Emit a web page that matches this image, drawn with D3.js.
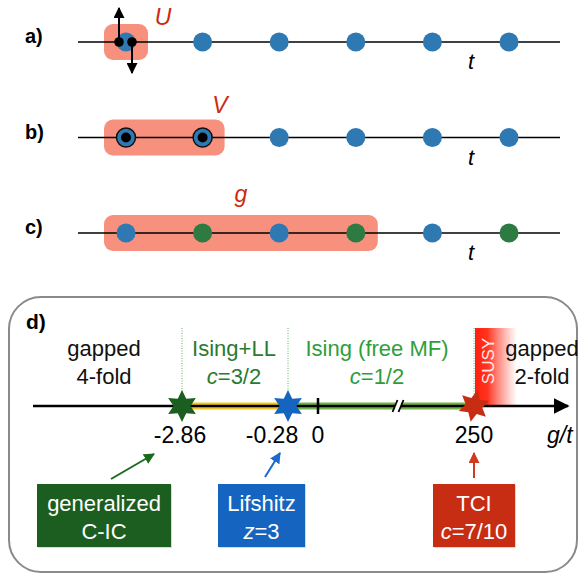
<!DOCTYPE html>
<html>
<head>
<meta charset="utf-8">
<script src="https://cdn.jsdelivr.net/npm/d3@7"></script>
<style>
  body { margin: 0; background: #fff; }
  text { font-family: "Liberation Sans", Arial, Helvetica, sans-serif; }
</style>
</head>
<body>
<div id="chart"></div>
<script>
// chain sites (panels a-c)
var sites = [0, 1, 2, 3, 4, 5];
var siteColorsA = ['blue', 'blue', 'blue', 'blue', 'blue', 'blue'];
var siteColorsB = ['blue', 'blue', 'blue', 'blue', 'blue', 'blue'];
var siteColorsC = ['blue', 'green', 'blue', 'green', 'blue', 'green'];
var panelLabels = ['a)', 'b)', 'c)'];
var couplingLabels = ['U', 'V', 'g'];
var couplingSpan = [1, 2, 4];

// phase diagram (panel d)
var tickValues = [-2.86, -0.28, 0, 250];
var tickLabels = ['-2.86', '-0.28', '0', '250'];
var criticalValues = [-2.86, -0.28, 250];
var criticalColors = ['#1b5e20', '#1565c0', '#c62d12'];
var criticalNames = [['generalized', 'C-IC'], ['Lifshitz', 'z=3'], ['TCI', 'c=7/10']];
var bandFrom = [-2.86, -0.28];
var bandTo = [-0.28, 250];
var bandColors = ['#f2c623', '#70b445'];

var W = 582, H = 577;
var colors = { blue: '#2f79b3', green: '#2d7a42' };
var salmon = '#f8907e';

var svg = d3.select('#chart').append('svg')
  .attr('width', W)
  .attr('height', H);

var defs = svg.append('defs');
var grad = defs.append('linearGradient')
  .attr('id', 'susy')
  .attr('x1', 0).attr('x2', 1).attr('y1', 0).attr('y2', 0);
grad.append('stop').attr('offset', 0).attr('stop-color', '#ff1f0c').attr('stop-opacity', 1);
grad.append('stop').attr('offset', 0.3).attr('stop-color', '#ff2a16').attr('stop-opacity', 0.95);
grad.append('stop').attr('offset', 1).attr('stop-color', '#ff5a4a').attr('stop-opacity', 0);

function arrowHead(id, color, size) {
  defs.append('marker')
    .attr('id', id)
    .attr('viewBox', '0 0 10 10')
    .attr('refX', 9).attr('refY', 5)
    .attr('markerWidth', size).attr('markerHeight', size)
    .attr('markerUnits', 'userSpaceOnUse')
    .attr('orient', 'auto')
    .append('path')
    .attr('d', 'M0,0 L10,5 L0,10 Z')
    .attr('fill', color);
}
arrowHead('ah-black', '#000', 11);
arrowHead('ah-axis', '#000', 16);
arrowHead('ah-green', '#1a6a1e', 11);
arrowHead('ah-blue', '#1a6ad0', 11);
arrowHead('ah-red', '#d03a20', 11);

// ---------- panels a, b, c ----------
var x = d3.scaleLinear().domain([0, 5]).range([126, 509]);
var rowY = d3.scalePoint().domain(panelLabels).range([42, 233]);
var siteColors = [siteColorsA, siteColorsB, siteColorsC];

panelLabels.forEach(function (lab, i) {
  var y = rowY(lab);
  var g = svg.append('g').attr('class', 'row');

  g.append('text')
    .attr('x', 25).attr('y', y + 1)
    .attr('font-size', 20).attr('font-weight', 'bold')
    .text(lab);

  var span = couplingSpan[i];
  g.append('rect')
    .attr('x', x(0) - 22)
    .attr('y', y - 18)
    .attr('width', x(span - 1) - x(0) + 44)
    .attr('height', 36)
    .attr('rx', 9)
    .attr('fill', salmon);

  g.append('line')
    .attr('x1', 78).attr('x2', 560)
    .attr('y1', y).attr('y2', y)
    .attr('stroke', '#000').attr('stroke-width', 1.6);

  g.selectAll('circle.site')
    .data(sites)
    .enter().append('circle')
    .attr('class', 'site')
    .attr('cx', function (d) { return x(d); })
    .attr('cy', y)
    .attr('r', 9.5)
    .attr('fill', function (d) { return colors[siteColors[i][d]]; })
    .attr('stroke', function (d) { return (i === 1 && d < 2) ? '#111' : 'none'; })
    .attr('stroke-width', 1.5);

  g.append('text')
    .attr('x', 471).attr('y', y + 27)
    .attr('text-anchor', 'middle')
    .attr('font-size', 22).attr('font-style', 'italic')
    .text('t');
});

// coupling labels
var couplingPos = [[163, 25], [220, 113], [241, 202]];
couplingLabels.forEach(function (c, i) {
  svg.append('text')
    .attr('x', couplingPos[i][0]).attr('y', couplingPos[i][1])
    .attr('text-anchor', 'middle')
    .attr('font-size', 23).attr('font-style', 'italic')
    .attr('fill', '#cc2a12')
    .text(c);
});

// panel a: spins
var ya = rowY('a)');
svg.append('line')
  .attr('x1', x(0) - 7).attr('x2', x(0) - 7)
  .attr('y1', ya).attr('y2', 8)
  .attr('stroke', '#000').attr('stroke-width', 2)
  .attr('marker-end', 'url(#ah-black)');
svg.append('line')
  .attr('x1', x(0) + 6).attr('x2', x(0) + 6)
  .attr('y1', ya).attr('y2', 73)
  .attr('stroke', '#000').attr('stroke-width', 2)
  .attr('marker-end', 'url(#ah-black)');
svg.selectAll('circle.spin')
  .data([-7, 6])
  .enter().append('circle')
  .attr('class', 'spin')
  .attr('cx', function (d) { return x(0) + d; })
  .attr('cy', ya)
  .attr('r', 4.8)
  .attr('fill', '#000');

// panel b: black centres
svg.selectAll('circle.bc')
  .data([0, 1])
  .enter().append('circle')
  .attr('class', 'bc')
  .attr('cx', function (d) { return x(d); })
  .attr('cy', rowY('b)'))
  .attr('r', 5)
  .attr('fill', '#000');

// ---------- panel d ----------
var axisY = 406;
var gx = d3.scaleLinear().domain(tickValues).range([182, 288, 318, 474]);

svg.append('rect')
  .attr('x', 9).attr('y', 297)
  .attr('width', 568).attr('height', 275)
  .attr('rx', 32)
  .attr('fill', '#fff')
  .attr('stroke', '#8a8a8a').attr('stroke-width', 2);

svg.append('text')
  .attr('x', 26).attr('y', 329)
  .attr('font-size', 21).attr('font-weight', 'bold')
  .text('d)');

// SUSY strip
svg.append('rect')
  .attr('x', gx(250) + 1).attr('y', 328)
  .attr('width', 42).attr('height', axisY - 328)
  .attr('fill', 'url(#susy)');
svg.append('text')
  .attr('transform', 'translate(' + (gx(250) + 20) + ',361) rotate(-90)')
  .attr('text-anchor', 'middle')
  .attr('font-size', 17)
  .attr('fill', '#fff')
  .attr('fill-opacity', 0.9)
  .text('SUSY');

// dotted boundaries
svg.selectAll('line.bound')
  .data(criticalValues)
  .enter().append('line')
  .attr('class', 'bound')
  .attr('x1', function (d) { return gx(d); })
  .attr('x2', function (d) { return gx(d); })
  .attr('y1', 328).attr('y2', axisY)
  .attr('stroke', '#5cb85c').attr('stroke-width', 1)
  .attr('stroke-dasharray', '1,1.5');

// phase labels
function phaseText(cx, lines, color) {
  lines.forEach(function (l, j) {
    var t = svg.append('text')
      .attr('x', cx).attr('y', 356 + j * 28)
      .attr('text-anchor', 'middle')
      .attr('font-size', 22)
      .attr('fill', color);
    if (l.indexOf('c=') === 0) {
      t.append('tspan').attr('font-style', 'italic').text('c');
      t.append('tspan').text(l.slice(1));
    } else {
      t.text(l);
    }
  });
}
phaseText(104, ['gapped', '4-fold'], '#111');
phaseText(234, ['Ising+LL', 'c=3/2'], '#2a7a30');
phaseText(377, ['Ising (free MF)', 'c=1/2'], '#2f9e3a');
phaseText(542, ['gapped', '2-fold'], '#111');

// bands
svg.selectAll('rect.band')
  .data(bandFrom)
  .enter().append('rect')
  .attr('class', 'band')
  .attr('x', function (d) { return gx(d); })
  .attr('y', axisY - 3.5)
  .attr('width', function (d, i) { return gx(bandTo[i]) - gx(d); })
  .attr('height', 7)
  .attr('fill', function (d, i) { return bandColors[i]; });

// axis line
svg.append('line')
  .attr('x1', 33).attr('x2', 568)
  .attr('y1', axisY).attr('y2', axisY)
  .attr('stroke', '#000').attr('stroke-width', 2.5)
  .attr('marker-end', 'url(#ah-axis)');

// axis break
var bx = 398;
svg.append('rect')
  .attr('x', bx - 3).attr('y', axisY - 5)
  .attr('width', 6).attr('height', 10)
  .attr('fill', '#fff');
[-3, 3].forEach(function (o) {
  svg.append('line')
    .attr('x1', bx + o - 2.5).attr('x2', bx + o + 2.5)
    .attr('y1', axisY + 6).attr('y2', axisY - 6)
    .attr('stroke', '#000').attr('stroke-width', 1.8);
});

// tick at 0
svg.append('line')
  .attr('x1', gx(0)).attr('x2', gx(0))
  .attr('y1', axisY - 8).attr('y2', axisY + 8)
  .attr('stroke', '#000').attr('stroke-width', 2.5);

// stars
function starPath(ro, ri, n) {
  var pts = [];
  for (var k = 0; k < 2 * n; k++) {
    var r = k % 2 === 0 ? ro : ri;
    var a = -Math.PI / 2 + k * Math.PI / n;
    pts.push([r * Math.cos(a), r * Math.sin(a)]);
  }
  return d3.line()(pts) + 'Z';
}
svg.selectAll('path.star')
  .data(criticalValues)
  .enter().append('path')
  .attr('class', 'star')
  .attr('d', starPath(16, 8.5, 6))
  .attr('transform', function (d, i) {
    return 'translate(' + gx(d) + ',' + axisY + ')' + (i === 2 ? ' rotate(12)' : '');
  })
  .attr('fill', function (d, i) { return criticalColors[i]; });

// tick labels
var labelShift = { '-2.86': -2, '-0.28': -16, '0': 0, '250': 0 };
svg.selectAll('text.tick')
  .data(tickValues)
  .enter().append('text')
  .attr('class', 'tick')
  .attr('x', function (d, i) { return gx(d) + labelShift[tickLabels[i]]; })
  .attr('y', 443)
  .attr('text-anchor', 'middle')
  .attr('font-size', 23)
  .text(function (d, i) { return tickLabels[i]; });
svg.append('text')
  .attr('x', 547).attr('y', 443)
  .attr('font-size', 23).attr('font-style', 'italic')
  .text('g/t');

// critical point boxes
var boxes = [
  { cx: 104, w: 134, arrow: [111, 479, 154, 454], m: 'ah-green', c: '#1a6a1e' },
  { cx: 261.5, w: 87, arrow: [265, 477, 280, 453], m: 'ah-blue', c: '#1a6ad0' },
  { cx: gx(250), w: 82, arrow: [gx(250), 478, gx(250), 453], m: 'ah-red', c: '#d03a20' }
];
boxes.forEach(function (b, i) {
  svg.append('line')
    .attr('x1', b.arrow[0]).attr('y1', b.arrow[1])
    .attr('x2', b.arrow[2]).attr('y2', b.arrow[3])
    .attr('stroke', b.c).attr('stroke-width', 2)
    .attr('marker-end', 'url(#' + b.m + ')');
  svg.append('rect')
    .attr('x', b.cx - b.w / 2 + 1).attr('y', 485)
    .attr('width', b.w).attr('height', 63)
    .attr('fill', '#000').attr('opacity', 0.15);
  svg.append('rect')
    .attr('x', b.cx - b.w / 2).attr('y', 484)
    .attr('width', b.w).attr('height', 63)
    .attr('fill', criticalColors[i]);
  criticalNames[i].forEach(function (l, j) {
    var t = svg.append('text')
      .attr('x', b.cx).attr('y', 511 + j * 28)
      .attr('text-anchor', 'middle')
      .attr('font-size', 22)
      .attr('fill', '#fff');
    var m = l.match(/^([cz])(=.*)$/);
    if (m) {
      t.append('tspan').attr('font-style', 'italic').text(m[1]);
      t.append('tspan').text(m[2]);
    } else {
      t.text(l);
    }
  });
});
</script>
</body>
</html>
